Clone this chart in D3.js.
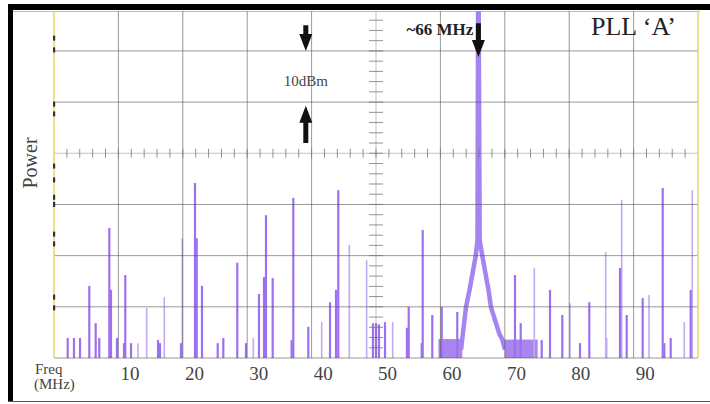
<!DOCTYPE html>
<html>
<head>
<meta charset="utf-8">
<script src="https://cdn.jsdelivr.net/npm/d3@7"></script>
<style>
  body { margin: 0; background: #fff; }
  svg { display: block; }
  text { font-family: "Liberation Serif", "DejaVu Serif", serif; }
</style>
</head>
<body>
<svg id="chart" width="710" height="404"></svg>
<script>
// spurs: [MHz, level in screen divisions above the floor]
const strongSpurs = [
  [0.33, 0.39], [1.30, 0.39], [2.24, 0.39], [3.68, 1.41], [4.67, 0.68], [5.23, 0.39],
  [6.79, 2.54], [7.05, 1.33], [7.98, 0.39], [9.07, 0.29], [9.27, 1.62], [10.16, 0.29],
  [14.35, 0.35], [14.66, 0.29], [17.92, 0.29], [20.09, 3.42], [20.36, 2.34], [21.18, 1.41],
  [23.62, 0.29], [24.49, 0.39], [26.66, 1.86], [28.01, 0.29], [30.03, 1.25], [30.81, 1.58],
  [31.12, 2.79], [32.16, 1.56], [35.1, 0.35], [35.36, 3.13], [37.69, 0.61], [41.06, 1.09],
  [41.99, 1.33], [42.34, 3.28], [47.73, 0.68], [48.2, 0.68], [48.66, 0.66], [49.6, 0.7],
  [53.0, 0.59], [53.28, 1.0], [55.30, 0.29], [55.45, 2.5], [56.94, 0.84], [58.4, 1.0],
  [60.82, 0.9], [69.78, 1.62], [70.67, 0.68], [73.93, 0.35], [75.22, 1.33], [77.13, 0.84],
  [79.88, 0.29], [81.32, 1.09], [86.09, 1.76], [87.13, 0.84], [89.61, 1.17], [92.72, 3.32],
  [92.97, 0.29], [93.96, 0.39], [97.06, 1.33]
];
const faintSpurs = [
  [11.24, 0.29], [12.59, 0.98], [15.33, 1.19], [18.12, 2.34], [29.15, 0.39], [39.77, 0.70],
  [44.05, 2.21], [46.75, 1.91], [50.79, 0.7], [72.78, 1.76], [78.32, 1.07], [83.87, 2.07],
  [84.02, 0.39], [86.35, 3.09], [90.59, 1.23], [96.07, 0.70], [97.31, 3.28]
];
// the PLL carrier skirt, goes off the top of the screen
const carrierTrace = [
  [61.4, 0.16], [62.17, 0.99], [62.72, 1.33], [63.65, 1.97], [63.96, 2.3], [64.06, 7.2],
  [64.13, 7.2], [64.3, 2.3], [64.74, 1.97], [65.67, 1.33], [66.06, 0.99], [66.84, 0.68],
  [67.3, 0.49], [67.84, 0.35], [68.23, 0.16]
];
// raised noise floor either side of the carrier: [from MHz, to MHz, level]
const noiseFloor = [[57.9, 61.6, 0.37], [68.2, 73.3, 0.36]];
const freqTicks = [10, 20, 30, 40, 50, 60, 70, 80, 90];
const railMarks = [6.25, 6.02, 4.96, 4.77, 3.75, 3.48, 3.14, 3.0, 2.42, 2.23, 1.19, 0.98];

const svg = d3.select("#chart");
const plot = { left: 54, right: 698, top: 11, bottom: 358 };

const x = d3.scaleLinear().domain([-1.8, 98.2]).range([plot.left, plot.right]);
const xDiv = d3.scaleLinear().domain([0, 10]).range([plot.left, plot.right]);
const y = d3.scaleLinear().domain([0, 6.78]).range([plot.bottom, plot.top]);

// photo frame
svg.append("rect").attr("x", 8).attr("y", 4).attr("width", 702).attr("height", 6).attr("fill", "#000");
svg.append("rect").attr("x", 8).attr("y", 4).attr("width", 5).attr("height", 397).attr("fill", "#000");
svg.append("line").attr("x1", 8).attr("x2", 710).attr("y1", 401.5).attr("y2", 401.5)
  .attr("stroke", "#555").attr("stroke-width", 1.2);
svg.append("line").attr("x1", 13).attr("x2", 700).attr("y1", 11.5).attr("y2", 11.5)
  .attr("stroke", "#bbb");

svg.append("clipPath").attr("id", "screen")
  .append("rect").attr("x", plot.left).attr("y", plot.top)
  .attr("width", plot.right - plot.left).attr("height", plot.bottom - plot.top);

const trace = svg.append("g").attr("clip-path", "url(#screen)");

trace.selectAll(".floor").data(noiseFloor).join("rect")
  .attr("x", d => x(d[0])).attr("width", d => x(d[1]) - x(d[0]))
  .attr("y", d => y(d[2])).attr("height", d => y(0) - y(d[2]))
  .attr("fill", "#a886ee");

trace.selectAll(".faint").data(faintSpurs).join("line")
  .attr("x1", d => x(d[0])).attr("x2", d => x(d[0]))
  .attr("y1", y(0)).attr("y2", d => y(d[1]))
  .attr("stroke", "#c2aaf0").attr("stroke-width", 1.6);

trace.selectAll(".strong").data(strongSpurs).join("line")
  .attr("x1", d => x(d[0])).attr("x2", d => x(d[0]))
  .attr("y1", y(0)).attr("y2", d => y(d[1]))
  .attr("stroke", "#9c70f0").attr("stroke-width", 2.2);

trace.append("path")
  .attr("d", d3.line().x(d => x(d[0])).y(d => y(d[1]))(carrierTrace))
  .attr("fill", "none").attr("stroke", "#a484f0").attr("stroke-width", 4.5)
  .attr("stroke-linejoin", "round");

// graticule on top of the trace
const grid = svg.append("g").attr("stroke", "#555").attr("stroke-opacity", 0.6);
grid.selectAll(".v").data([1, 2, 3, 4, 6, 7, 8, 9]).join("line")
  .attr("x1", d => xDiv(d)).attr("x2", d => xDiv(d))
  .attr("y1", plot.top).attr("y2", plot.bottom);
grid.selectAll(".h").data([0, 1, 2, 3, 5, 6]).join("line")
  .attr("x1", plot.left).attr("x2", plot.right)
  .attr("y1", d => y(d)).attr("y2", d => y(d));

const centre = svg.append("g").attr("stroke", "#777").attr("stroke-opacity", 0.8);
centre.append("line").attr("x1", plot.left).attr("x2", plot.right)
  .attr("y1", y(4)).attr("y2", y(4)).attr("stroke-opacity", 0.45);
centre.append("line").attr("x1", xDiv(5)).attr("x2", xDiv(5))
  .attr("y1", plot.top).attr("y2", plot.bottom).attr("stroke-opacity", 0.45);
centre.selectAll(".tx").data(d3.range(1, 50)).join("line")
  .attr("x1", d => xDiv(d / 5)).attr("x2", d => xDiv(d / 5))
  .attr("y1", y(4) - 4.5).attr("y2", y(4) + 4.5);
centre.selectAll(".ty").data(d3.range(1, 34)).join("line")
  .attr("x1", xDiv(5) - 7).attr("x2", xDiv(5) + 7)
  .attr("y1", d => y(d / 5)).attr("y2", d => y(d / 5));

// yellow side rails
svg.selectAll(".rail").data([plot.left, plot.right]).join("line")
  .attr("x1", d => d).attr("x2", d => d)
  .attr("y1", plot.top).attr("y2", plot.bottom)
  .attr("stroke", "#e6d468").attr("stroke-width", 1.5);
svg.selectAll(".mark").data(railMarks).join("rect")
  .attr("x", plot.left - 1).attr("width", 2.2)
  .attr("y", d => y(d) - 2.5).attr("height", 5)
  .attr("fill", "#333");

// frequency labels
svg.selectAll(".tick").data(freqTicks).join("text")
  .attr("x", d => x(d)).attr("y", 380)
  .attr("text-anchor", "middle").attr("font-size", 19).attr("fill", "#444")
  .text(d => d);

svg.append("text").attr("x", 35).attr("y", 374).attr("font-size", 15).attr("fill", "#444").text("Freq");
svg.append("text").attr("x", 34).attr("y", 389).attr("font-size", 15).attr("fill", "#444").text("(MHz)");
svg.append("text").attr("transform", "translate(37,163) rotate(-90)")
  .attr("text-anchor", "middle").attr("font-size", 20).attr("fill", "#444").text("Power");

svg.append("text").attr("x", 676).attr("y", 35).attr("text-anchor", "end")
  .attr("font-size", 26).attr("fill", "#222").text("PLL \u2018A\u2019");

// arrows
const arrow = (mhz, tail, tip) => {
  const cx = x(mhz), yTail = y(tail), yTip = y(tip);
  const dir = yTip > yTail ? 1 : -1;
  const base = yTip - dir * 17;
  return `M${cx - 2.5},${yTail} L${cx + 2.5},${yTail} L${cx + 2.5},${base} L${cx + 6.5},${base}
    L${cx},${yTip} L${cx - 6.5},${base} L${cx - 2.5},${base} Z`;
};
svg.append("path").attr("d", arrow(37.3, 6.5, 6.0)).attr("fill", "#111");
svg.append("path").attr("d", arrow(37.3, 4.2, 4.93)).attr("fill", "#111");
svg.append("path").attr("d", arrow(64.1, 6.54, 5.88)).attr("fill", "#111");

svg.append("text").attr("x", x(37.3)).attr("y", 86).attr("text-anchor", "middle")
  .attr("font-size", 15).attr("fill", "#444").text("10dBm");
svg.append("text").attr("x", x(64.1) - 5).attr("y", 35).attr("text-anchor", "end")
  .attr("font-size", 17).attr("font-weight", "bold").attr("fill", "#222").text("~66 MHz");
</script>
</body>
</html>
